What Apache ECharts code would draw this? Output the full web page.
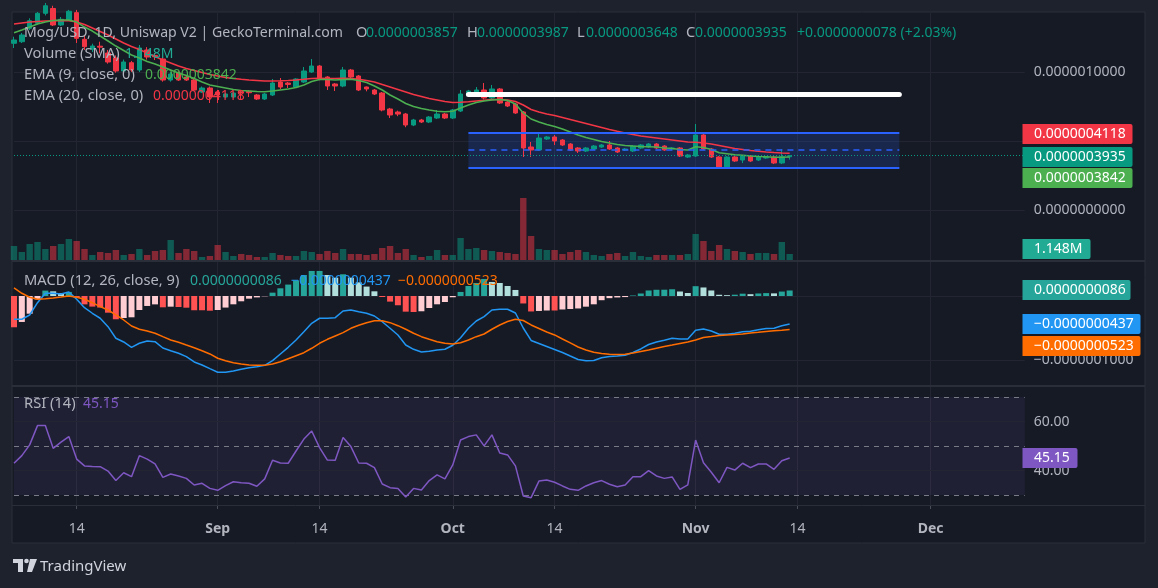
<!DOCTYPE html>
<html>
<head>
<meta charset="utf-8">
<style>
  html, body { margin: 0; padding: 0; background: #1e222d; }
  #chart { width: 1158px; height: 588px; }
</style>
<script src="https://cdn.jsdelivr.net/npm/echarts/dist/echarts.min.js"></script>
</head>
<body>
<div id="chart"></div>
<script>
// prices are in units of 1e-10 USD (so 3935 -> 0.0000003935)
const opens = [12079, 12195, 13166, 13528, 14253, 14600, 13405, 13767, 14300, 12369,
  11650, 11870, 11376, 11014, 10072, 10673, 10144, 11594, 11200, 10942,
  9420, 9927, 9637, 9420, 8550, 8840, 8550, 8188, 8188, 8550,
  8600, 8333, 8043, 8333, 9275, 9200, 8912, 9275, 10000, 10434,
  9637, 9130, 8985, 10144, 9710, 8912, 8695, 8478, 7318, 7100,
  6956, 6159, 6521, 6376, 6666, 6956, 6666, 7173, 8333, 8550,
  8695, 8115, 8768, 7826, 7680, 7101, 4565, 4348, 5145, 5290,
  5072, 4782, 4492, 4275, 4420, 4565, 4710, 4492, 4348, 4275,
  4492, 4565, 4782, 4637, 4420, 4492, 3840, 3913, 5435, 4420,
  3840, 3116, 3840, 3623, 3913, 3623, 3768, 3840, 3406, 3857];
const closes = [12318, 12681, 13717, 14253, 14800, 13405, 13818, 14400, 12441, 11833,
  11883, 11800, 10724, 10072, 10724, 10144, 11738, 11086, 11100, 9420,
  9855, 9420, 9420, 8695, 8840, 8188, 8333, 8405, 8478, 8478,
  8500, 8043, 8405, 9202, 8912, 9100, 9492, 10072, 10434, 9565,
  8985, 8985, 10144, 9637, 8695, 8768, 8405, 7246, 6884, 6950,
  6159, 6521, 6376, 6739, 6956, 6666, 7246, 8405, 8623, 8695,
  8115, 8768, 7753, 7536, 7029, 4492, 4348, 5217, 5290, 5000,
  4710, 4348, 4275, 4492, 4637, 4710, 4420, 4203, 4420, 4637,
  4710, 4782, 4492, 4348, 4492, 3913, 3985, 5435, 4420, 3840,
  3116, 3840, 3550, 3913, 3550, 3840, 3840, 3406, 3857, 3935];
const highs = [12557, 12826, 13891, 14347, 15000, 14800, 13985, 14500, 14500, 12608,
  12050, 12195, 11600, 11200, 10900, 10800, 11956, 11800, 11376, 11100,
  10000, 10050, 9750, 9500, 8950, 8950, 8700, 8480, 8550, 8695,
  8695, 8400, 8480, 9492, 9565, 9275, 9550, 10362, 10941, 10500,
  9700, 9200, 10362, 10220, 9780, 8950, 8770, 8550, 7400, 7200,
  7030, 6600, 6600, 6810, 7246, 7030, 7320, 8695, 8700, 8912,
  9202, 9058, 8840, 7900, 7753, 7170, 4927, 5507, 5360, 5435,
  5140, 4850, 4560, 4560, 4710, 4780, 5000, 4560, 4490, 4710,
  4780, 4850, 4850, 4700, 4560, 4560, 4060, 6231, 5500, 4490,
  3910, 3910, 3910, 3985, 3985, 3910, 3910, 3910, 4420, 3987];
const lows = [11738, 12101, 13043, 13405, 14100, 13333, 13333, 13695, 12101, 11594,
  11450, 11354, 10600, 9950, 9900, 10000, 10000, 10900, 10869, 9300,
  9300, 9350, 9350, 8620, 8480, 7753, 7753, 8100, 8100, 7971,
  8188, 7970, 7970, 8260, 8768, 8840, 8840, 9200, 9930, 9400,
  8695, 8623, 8900, 9560, 8620, 8600, 8330, 7150, 6666, 6800,
  6000, 6080, 6300, 6300, 6590, 6590, 6590, 7100, 8260, 8500,
  8000, 8040, 7680, 7460, 6960, 3840, 3840, 4280, 5070, 4710,
  4640, 4280, 4130, 4200, 4350, 4500, 4350, 4130, 4280, 4200,
  4420, 4490, 4420, 4280, 4350, 3840, 3770, 3840, 4350, 3770,
  3040, 3040, 3480, 3400, 3480, 3550, 3700, 3330, 3330, 3648];
// volume in millions
const volumes = [2.68, 1.53, 3.06, 3.44, 2.10, 2.68, 3.06, 4.02, 3.63, 2.10,
  0.96, 1.53, 1.34, 1.91, 0.96, 1.15, 2.10, 0.96, 1.72, 1.91,
  3.83, 1.34, 2.10, 1.72, 0.57, 0.77, 2.87, 1.53, 0.77, 1.15,
  0.96, 0.57, 0.57, 1.34, 0.96, 0.77, 0.77, 1.72, 1.53, 1.15,
  1.72, 1.34, 2.10, 1.15, 1.15, 0.96, 1.15, 2.30, 2.68, 1.34,
  2.10, 0.96, 0.57, 0.77, 1.91, 0.96, 0.96, 4.21, 2.10, 2.30,
  1.91, 1.72, 1.53, 1.34, 1.15, 11.86, 4.59, 2.10, 1.91, 1.91,
  1.15, 1.53, 1.91, 1.53, 0.96, 0.77, 1.15, 1.34, 0.77, 1.53,
  0.77, 0.57, 0.96, 0.96, 0.96, 0.96, 1.15, 4.97, 3.63, 1.72,
  2.87, 2.10, 1.72, 1.53, 1.15, 1.34, 1.34, 1.15, 3.44, 1.148];
const ema9 = [12847, 13043, 13260, 13478, 13622, 13731, 13767, 13767, 13622, 13260,
  12970, 12608, 12246, 11883, 11557, 11231, 11014, 10760, 10579, 10362,
  10144, 9927, 9746, 9528, 9275, 9058, 8949, 8840, 8731, 8659,
  8623, 8587, 8572, 8623, 8695, 8768, 8876, 9058, 9311, 9456,
  9456, 9420, 9456, 9470, 9384, 9239, 8985, 8695, 8333, 8043,
  7717, 7500, 7355, 7246, 7152, 7123, 7152, 7391, 7608, 7789,
  7898, 7971, 8007, 7934, 7681, 7029, 6594, 6376, 6195, 6050,
  5869, 5652, 5435, 5253, 5108, 4964, 4855, 4746, 4674, 4637,
  4601, 4587, 4565, 4493, 4456, 4384, 4348, 4587, 4529, 4384,
  4152, 4079, 4007, 3964, 3913, 3877, 3855, 3819, 3819, 3842];
const ema20 = [13478, 13550, 13622, 13659, 13695, 13717, 13731, 13717, 13622, 13441,
  13188, 12934, 12681, 12391, 12101, 11847, 11630, 11376, 11123, 10869,
  10652, 10434, 10253, 10108, 9963, 9818, 9710, 9601, 9528, 9470,
  9420, 9384, 9347, 9347, 9362, 9384, 9420, 9470, 9528, 9543,
  9528, 9528, 9543, 9528, 9470, 9384, 9275, 9094, 8913, 8731,
  8550, 8369, 8224, 8079, 7971, 7862, 7789, 7804, 7847, 7898,
  7949, 8007, 8007, 7971, 7862, 7608, 7282, 7101, 6956, 6847,
  6703, 6558, 6413, 6268, 6123, 5978, 5833, 5703, 5579, 5471,
  5362, 5290, 5217, 5145, 5072, 5000, 4927, 4906, 4855, 4782,
  4674, 4565, 4456, 4384, 4311, 4253, 4203, 4166, 4130, 4118];
const macdLine = [-364, -364, -297, -105, 42, 42, 31, 63, -52, -183,
  -270, -348, -480, -661, -719, -802, -739, -703, -714, -813,
  -855, -895, -948, -1031, -1078, -1136, -1192, -1192, -1172, -1145,
  -1120, -1105, -1083, -1011, -906, -802, -688, -558, -427, -348,
  -348, -339, -234, -219, -245, -270, -313, -402, -505, -609,
  -766, -833, -875, -864, -844, -833, -770, -652, -505, -391,
  -323, -219, -208, -208, -266, -500, -695, -742, -789, -836,
  -883, -938, -992, -1011, -1008, -964, -945, -938, -927, -883,
  -828, -758, -719, -691, -661, -672, -672, -534, -516, -547,
  -598, -597, -581, -558, -550, -528, -509, -503, -466, -437];
const signalLine = [125, 42, -20, -52, -42, -31, -16, 0, -20, -52,
  -105, -167, -219, -297, -375, -469, -520, -547, -583, -636,
  -688, -723, -766, -808, -855, -906, -973, -1011, -1042, -1063,
  -1078, -1083, -1083, -1063, -1027, -980, -933, -886, -817, -739,
  -677, -625, -573, -505, -458, -417, -386, -386, -417, -464,
  -520, -583, -636, -677, -714, -739, -750, -730, -688, -636,
  -594, -520, -453, -398, -364, -383, -453, -508, -563, -609,
  -672, -734, -797, -844, -878, -898, -911, -914, -909, -891,
  -867, -844, -816, -789, -766, -742, -719, -688, -648, -633,
  -617, -609, -602, -594, -578, -567, -555, -544, -534, -523];
const macdHist = [-489, -406, -277, -53, 84, 73, 47, 63, -31, -131,
  -166, -181, -261, -364, -344, -333, -219, -156, -131, -177,
  -167, -172, -183, -223, -223, -230, -219, -181, -130, -83,
  -42, -22, -5, 52, 120, 178, 245, 328, 391, 391,
  328, 286, 339, 286, 213, 147, 73, -16, -88, -145,
  -245, -250, -239, -188, -130, -94, -20, 63, 156, 203,
  266, 219, 203, 156, 94, -117, -242, -234, -227, -227,
  -211, -203, -195, -167, -130, -66, -34, -23, -17, 8,
  39, 86, 97, 98, 105, 70, 47, 153, 133, 86,
  19, 13, 20, 36, 28, 39, 45, 41, 69, 86];
const rsi = [43.0, 46.1, 50.5, 58.4, 58.4, 49.1, 51.6, 53.9, 44.7, 41.9,
  41.7, 41.6, 39.8, 35.9, 39.1, 37.5, 46.1, 44.7, 42.7, 37.2,
  38.6, 37.8, 36.8, 34.1, 34.8, 32.7, 31.9, 33.8, 35.4, 35.0,
  34.8, 33.6, 36.6, 44.2, 43.1, 43.0, 48.0, 52.9, 56.2, 49.4,
  44.3, 44.2, 53.5, 49.8, 43.1, 43.0, 41.2, 34.5, 33.0, 32.7,
  29.2, 32.7, 32.0, 35.9, 38.2, 36.6, 42.3, 52.5, 53.9, 54.6,
  50.1, 54.6, 47.2, 46.4, 41.9, 29.6, 28.9, 35.7, 36.1, 35.2,
  33.7, 32.3, 31.9, 33.7, 35.0, 35.9, 34.4, 33.4, 34.1, 37.5,
  37.5, 40.0, 37.8, 36.8, 37.4, 32.3, 34.1, 52.5, 43.2, 39.3,
  35.0, 41.3, 40.2, 43.0, 41.2, 42.7, 42.7, 40.5, 44.0, 45.15];

// drawings on the price pane
const hLineLevel = 8355;
const channelTop = 5601, channelBottom = 3065, channelMid = 4333;
const drawStart = 'Oct 3', drawEnd = 'Nov 27';
const lastPrice = 3935;

// time axis: Aug 6 .. Dec 13, labels at these days
const MONTHS = ['Jan', 'Feb', 'Mar', 'Apr', 'May', 'Jun', 'Jul', 'Aug', 'Sep', 'Oct', 'Nov', 'Dec'];
const dates = [];
for (let t = Date.UTC(2024, 7, 6); t <= Date.UTC(2024, 11, 13); t += 86400000) {
  const d = new Date(t);
  dates.push(MONTHS[d.getUTCMonth()] + ' ' + d.getUTCDate());
}
const tickDates = ['Aug 14', 'Sep 1', 'Sep 14', 'Oct 1', 'Oct 14', 'Nov 1', 'Nov 14', 'Dec 1'];

const FONT = '"Noto Sans", sans-serif';
const COL = {
  outer: '#1e222d', bg: '#161a25', grid: '#232632', sep: '#2a2e39', text: '#b2b5be',
  up: '#089981', down: '#f23645', ema9: '#4caf50', ema20: '#f23645',
  macd: '#2196f3', signal: '#ff6d00', rsi: '#7e57c2', blue: '#2962ff'
};
const MINUS = '\u2212';
const fmt = v => (v < 0 ? MINUS : '') + (Math.abs(v) / 1e10).toFixed(10);

const chart = echarts.init(document.getElementById('chart'), null, { renderer: 'canvas' });

const isTick = (idx, val) => tickDates.indexOf(val) >= 0;
function xAxisFor (gi, showLabels) {
  return {
    type: 'category', gridIndex: gi, data: dates, boundaryGap: false,
    axisLine: { show: false },
    axisTick: { show: showLabels, interval: isTick, length: 4, lineStyle: { color: '#4a4e5a' } },
    axisLabel: {
      show: showLabels, interval: isTick, color: COL.text, fontSize: 14, fontFamily: FONT, margin: 17,
      formatter: v => v.endsWith(' 1') ? '{m|' + v.split(' ')[0] + '}' : v.split(' ')[1],
      rich: { m: { fontWeight: 'bold', fontSize: 14, fontFamily: FONT, color: COL.text } }
    },
    splitLine: { show: gi !== 1, interval: isTick, lineStyle: { color: COL.grid, width: 1 } }
  };
}
function yAxisFor (gi, min, max) {
  return { type: 'value', gridIndex: gi, min, max, show: false, splitLine: { show: false } };
}
// horizontal grid line with optional right-hand scale label
function gridLine (value, label, extra) {
  return Object.assign({
    yAxis: value,
    lineStyle: { color: COL.grid, width: 1, type: 'solid' },
    label: {
      show: !!label, position: 'end', formatter: label || '', distance: 9,
      color: COL.text, fontSize: 14, fontFamily: FONT
    }
  }, extra || {});
}
const markBase = { symbol: 'none', silent: true, animation: false };

const gridRight = 1158 - 1024.7;
const option = {
  backgroundColor: COL.outer,
  animation: false,
  grid: [
    { left: 14, right: gridRight, top: 13, height: 247 },
    { left: 14, right: gridRight, top: 13, height: 247 },
    { left: 14, right: gridRight, top: 262, height: 123 },
    { left: 14, right: gridRight, top: 387, height: 118 }
  ],
  xAxis: [xAxisFor(0, false), xAxisFor(1, false), xAxisFor(2, false), xAxisFor(3, true)],
  yAxis: [
    yAxisFor(0, -3623, 14275),
    yAxisFor(1, 0, 47.25),
    yAxisFor(2, -1391, 531),
    yAxisFor(3, 25.9, 74.2)
  ],
  series: [
    // price pane grid + scale
    {
      type: 'line', xAxisIndex: 0, yAxisIndex: 0, data: [], z: 0,
      markLine: Object.assign({}, markBase, {
        z: 0,
        data: [gridLine(10000, '0.0000010000'), gridLine(5000, ''), gridLine(0, '0.0000000000')]
      })
    },
    {
      type: 'bar', xAxisIndex: 1, yAxisIndex: 1, barWidth: 6.4, z: 1,
      data: volumes.map((v, i) => ({
        value: v,
        itemStyle: { color: closes[i] >= opens[i] ? 'rgba(8,153,129,0.5)' : 'rgba(242,54,69,0.5)' }
      }))
    },
    {
      type: 'candlestick', xAxisIndex: 0, yAxisIndex: 0, barWidth: 5, z: 3,
      data: opens.map((o, i) => [o, closes[i], lows[i], highs[i]]),
      itemStyle: { color: COL.up, color0: COL.down, borderColor: COL.up, borderColor0: COL.down, borderWidth: 1 },
      markArea: {
        silent: true, z: 1,
        itemStyle: { color: 'rgba(41,98,255,0.18)' },
        data: [[{ xAxis: drawStart, yAxis: channelTop }, { xAxis: drawEnd, yAxis: channelBottom }]]
      },
      markLine: Object.assign({}, markBase, {
        z: 6,
        label: { show: false },
        data: [
          { yAxis: lastPrice, lineStyle: { color: '#089981', type: [1, 2], width: 1 } },
          [{ coord: [drawStart, channelTop], lineStyle: { color: COL.blue, width: 2, type: 'solid' } }, { coord: [drawEnd, channelTop] }],
          [{ coord: [drawStart, channelBottom], lineStyle: { color: COL.blue, width: 2, type: 'solid' } }, { coord: [drawEnd, channelBottom] }],
          [{ coord: [drawStart, channelMid], lineStyle: { color: COL.blue, width: 1.5, type: [6, 5] } }, { coord: [drawEnd, channelMid] }],
          [{ coord: [drawStart, hLineLevel], lineStyle: { color: '#ffffff', width: 5, type: 'solid', cap: 'round' } }, { coord: [drawEnd, hLineLevel] }]
        ]
      })
    },
    {
      type: 'line', xAxisIndex: 0, yAxisIndex: 0, data: ema20, showSymbol: false, z: 4,
      lineStyle: { color: COL.ema20, width: 1.5 }
    },
    {
      type: 'line', xAxisIndex: 0, yAxisIndex: 0, data: ema9, showSymbol: false, z: 4,
      lineStyle: { color: COL.ema9, width: 1.5 }
    },
    // MACD pane
    {
      type: 'line', xAxisIndex: 2, yAxisIndex: 2, data: [], z: 0,
      markLine: Object.assign({}, markBase, {
        z: 0,
        data: [gridLine(0, '0.0000000000'), gridLine(-1000, MINUS + '0.0000001000')]
      })
    },
    {
      type: 'bar', xAxisIndex: 2, yAxisIndex: 2, barWidth: 6, z: 2,
      data: macdHist.map((v, i) => {
        const prev = i > 0 ? macdHist[i - 1] : v;
        let c;
        if (v >= 0) c = v >= prev ? '#26a69a' : '#b2dfdb';
        else c = v <= prev ? '#ff5252' : '#ffcdd2';
        return { value: v, itemStyle: { color: c } };
      })
    },
    {
      type: 'line', xAxisIndex: 2, yAxisIndex: 2, data: macdLine, showSymbol: false, z: 3,
      lineStyle: { color: COL.macd, width: 1.5 }
    },
    {
      type: 'line', xAxisIndex: 2, yAxisIndex: 2, data: signalLine, showSymbol: false, z: 3,
      lineStyle: { color: COL.signal, width: 1.5 }
    },
    // RSI pane
    {
      type: 'line', xAxisIndex: 3, yAxisIndex: 3, data: [], z: 0,
      markArea: { silent: true, z: 0, itemStyle: { color: 'rgba(126,87,194,0.1)' }, data: [[{ yAxis: 70 }, { yAxis: 30 }]] },
      markLine: Object.assign({}, markBase, {
        z: 1,
        data: [
          gridLine(60, '60.00'), gridLine(40, '40.00'),
          gridLine(70, '', { lineStyle: { color: '#787b86', width: 1, type: [5, 5] } }),
          gridLine(50, '', { lineStyle: { color: '#787b86', width: 1, type: [5, 5] } }),
          gridLine(30, '', { lineStyle: { color: '#787b86', width: 1, type: [5, 5] } })
        ]
      })
    },
    {
      type: 'line', xAxisIndex: 3, yAxisIndex: 3, data: rsi, showSymbol: false, z: 3,
      lineStyle: { color: COL.rsi, width: 1.5 }
    }
  ]
};

// legends, scale tags, frame
function txt (x, y, text, fill, size) {
  return {
    type: 'text', z: 100,
    style: { x, y, text, fill, font: (size || 14) + 'px ' + FONT, verticalAlign: 'middle' }
  };
}
function tag (y, text, fill, w) {
  return {
    type: 'group', z: 110,
    children: [
      { type: 'rect', z: 110, shape: { x: 1022.5, y: y - 10, width: w, height: 20, r: [0, 2, 2, 0] }, style: { fill } },
      { type: 'text', z: 111, style: { x: 1034, y: y + 0.5, text, fill: '#ffffff', font: '14px ' + FONT, verticalAlign: 'middle' } }
    ]
  };
}
const G = COL.text;
const LS = 14.7; // legend caption size
option.graphic = [
  { type: 'rect', z: -1, shape: { x: 12, y: 12, width: 1133, height: 531 }, style: { fill: COL.bg, stroke: COL.sep, lineWidth: 1 } },
  { type: 'line', z: 50, shape: { x1: 12, y1: 261, x2: 1145, y2: 261 }, style: { stroke: COL.sep, lineWidth: 2 } },
  { type: 'line', z: 50, shape: { x1: 12, y1: 386, x2: 1145, y2: 386 }, style: { stroke: COL.sep, lineWidth: 2 } },
  { type: 'line', z: 50, shape: { x1: 12, y1: 505.5, x2: 1145, y2: 505.5 }, style: { stroke: COL.sep, lineWidth: 1 } },

  txt(24, 33, 'Mog/USD, 1D, Uniswap V2 | GeckoTerminal.com', G, 14.1),
  txt(356, 33, 'O', G, LS), txt(366, 33, fmt(opens[99]), COL.up),
  txt(467, 33, 'H', G, LS), txt(477, 33, fmt(highs[99]), COL.up),
  txt(577, 33, 'L', G, LS), txt(586, 33, fmt(lows[99]), COL.up),
  txt(686, 33, 'C', G, LS), txt(695, 33, fmt(closes[99]), COL.up),
  txt(797, 33, '+' + fmt(closes[99] - opens[99]) + ' (+2.03%)', COL.up),
  txt(24, 54, 'Volume (SMA)', G, LS), txt(125, 54, '1.148M', '#22ab94'),
  txt(24, 75, 'EMA (9, close, 0)', G, LS), txt(145, 75, fmt(ema9[99]), COL.ema9),
  txt(24, 96, 'EMA (20, close, 0)', G, LS), txt(153, 96, fmt(ema20[99]), COL.ema20),

  txt(24, 281, 'MACD (12, 26, close, 9)', G, LS),
  txt(190, 281, fmt(macdHist[99]), '#26a69a'),
  txt(291, 281, fmt(macdLine[99]), COL.macd),
  txt(398, 281, fmt(signalLine[99]), COL.signal),

  txt(24, 404, 'RSI (14)', G, LS), txt(83, 404, rsi[99].toFixed(2), COL.rsi),

  tag(134, fmt(ema20[99]), COL.ema20, 110),
  tag(157, fmt(lastPrice), COL.up, 110),
  tag(178, fmt(ema9[99]), COL.ema9, 110),
  tag(249, '1.148M', '#22ab94', 68),
  tag(290, fmt(macdHist[99]), '#26a69a', 108),
  tag(324, fmt(macdLine[99]), COL.macd, 118),
  tag(346, fmt(signalLine[99]), COL.signal, 118),
  tag(458, rsi[99].toFixed(2), COL.rsi, 55),

  // TradingView mark
  { type: 'rect', z: 100, shape: { x: 13, y: 559, width: 10, height: 4 }, style: { fill: '#d1d4dc' } },
  { type: 'rect', z: 100, shape: { x: 18, y: 559, width: 5, height: 13 }, style: { fill: '#d1d4dc' } },
  { type: 'circle', z: 100, shape: { cx: 26.5, cy: 561, r: 2.3 }, style: { fill: '#d1d4dc' } },
  { type: 'polygon', z: 100, shape: { points: [[30, 559], [37, 559], [32, 572], [27, 572]] }, style: { fill: '#d1d4dc' } },
  txt(40, 567, 'TradingView', '#d1d4dc', 15)
];

chart.setOption(option);
</script>
</body>
</html>
